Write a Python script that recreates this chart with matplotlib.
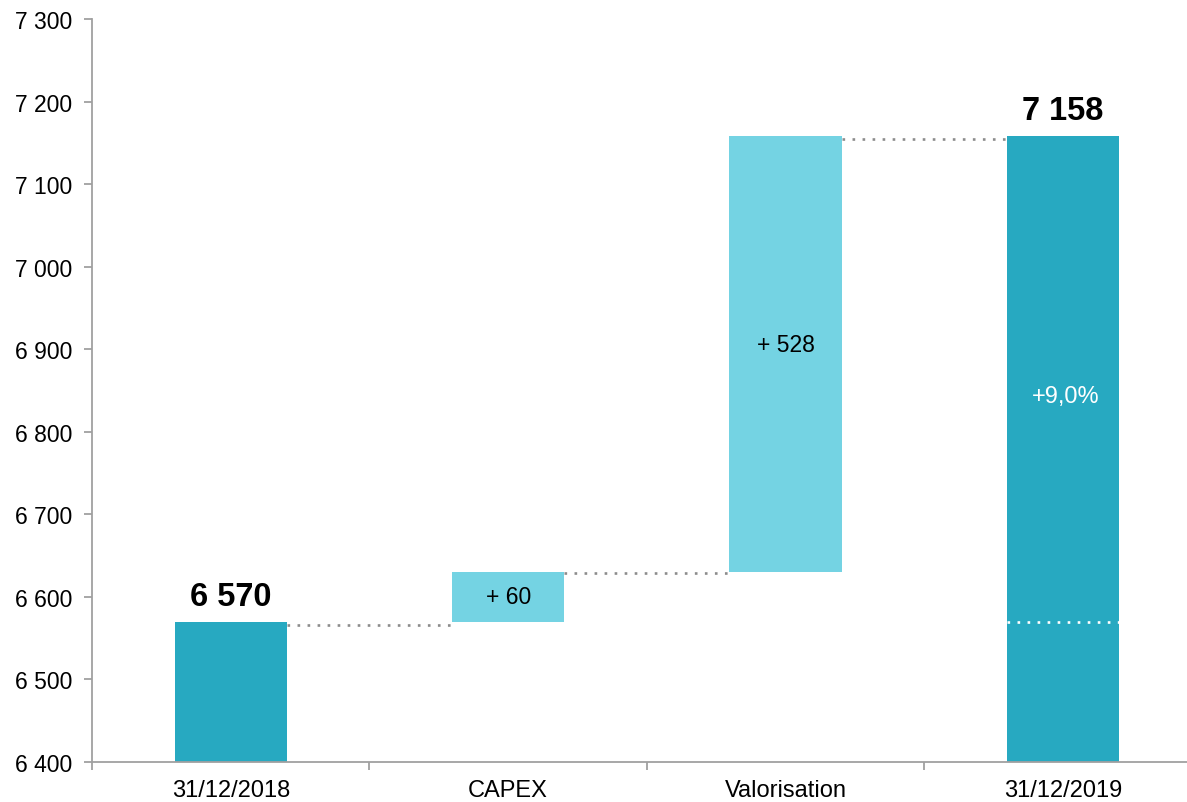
import matplotlib.pyplot as plt
import numpy as np

plt.rcParams['font.family'] = ['Liberation Sans', 'DejaVu Sans']

categories = ['31/12/2018', 'CAPEX', 'Valorisation', '31/12/2019']
start_value = 6570
changes = [60, 528]
end_value = 7158
growth_label = '+9,0%'

dark = '#27A9C1'
light = '#74D3E3'

fig = plt.figure(figsize=(11.87, 8.03), dpi=100)
ax = fig.add_axes([0.0775, 0.0498, 0.935, 0.9252])

x = np.arange(len(categories))
w = 0.405

# totals
ax.bar(x[0], start_value - 6400, bottom=6400, width=w, color=dark)
ax.bar(x[3], end_value - 6400, bottom=6400, width=w, color=dark)

# changes
bottoms = [start_value, start_value + changes[0]]
for i, (b, c) in enumerate(zip(bottoms, changes)):
    ax.bar(x[i + 1], c, bottom=b, width=w, color=light)
    ax.text(x[i + 1], b + c / 2 + (12 if c > 100 else 0), '+ %d' % c,
            ha='center', va='center', fontsize=16.5)

# connectors
levels = [start_value, start_value + changes[0], end_value]
offs = [-4, -1, -3]
for i, lv in enumerate(levels):
    ax.plot([x[i] + w / 2, x[i + 1] - w / 2], [lv + offs[i]] * 2, color='#8c8c8c',
            linestyle=(0, (1, 2.8)), linewidth=1.9)
ax.plot([x[3] - w / 2, x[3] + w / 2], [start_value, start_value], color='white',
        linestyle=(0, (1, 2.8)), linewidth=1.9)

def fmt(v):
    return '{:,}'.format(int(v)).replace(',', ' ')

ax.text(x[0], start_value + 12, fmt(start_value), ha='center', va='bottom',
        fontsize=23.5, fontweight='bold')
ax.text(x[3], end_value + 12, fmt(end_value), ha='center', va='bottom',
        fontsize=23.5, fontweight='bold')
ax.text(x[3] + 0.01, 6843, growth_label, ha='center', va='center',
        fontsize=17, color='white')

ax.set_xlim(-0.5, 3.5)
ax.set_ylim(6400, 7300)
yt = np.arange(6400, 7301, 100)
ax.set_yticks(yt)
ax.set_yticklabels([fmt(v) for v in yt], fontsize=16.5)

ax.set_xticks([-0.5, 0.5, 1.5, 2.5])
ax.set_xticklabels([])
ax.set_xticks(x, minor=True)
ax.set_xticklabels(categories, minor=True, fontsize=17)
ax.tick_params(axis='x', which='minor', length=0, pad=12)
ax.tick_params(axis='x', which='major', length=6, color='#a0a0a0', width=1.3)
ax.tick_params(axis='y', length=6, color='#a0a0a0', width=1.3, pad=8)

for s in ['top', 'right']:
    ax.spines[s].set_visible(False)
for s in ['left', 'bottom']:
    ax.spines[s].set_color('#a0a0a0')
    ax.spines[s].set_linewidth(1.3)

fig.savefig('out.png', dpi=100)
